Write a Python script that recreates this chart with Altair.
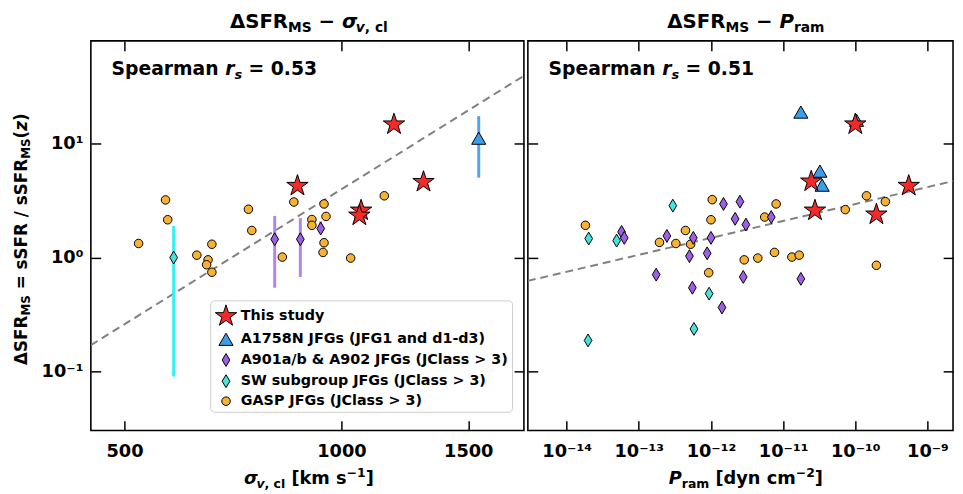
import math
import altair as alt
import pandas as pd

FONT = "DejaVu Sans"

# ---------------- data ----------------
GROUPS = ["This study", "A1758N JFGs (JFG1 and d1-d3)", "A901a/b & A902 JFGs (JClass > 3)",
          "SW subgroup JFGs (JClass > 3)", "GASP JFGs (JClass > 3)"]
FILL = ["#f42a2a", "#3e9de9", "#9c5fe5", "#46e2de", "#f7b234"]
ERR_GROUPS = GROUPS[1:4]
ERRC = ["#4aa5f3", "#b383ee", "#37f0f3"]

# left panel: sigma_v,cl [km/s] vs dSFR
star_L_x = [1183, 869, 1300, 1065, 1059]
star_L_y = [14.8, 4.27, 4.62, 2.59, 2.34]
tri_L_x = [1551]
tri_L_y = [11.2]
tri_L_lo = [5.04]
tri_L_hi = [17.5]
pur_L_x = [808, 877, 936]
pur_L_y = [1.45, 1.45, 1.80]
pur_L_lo = [0.543, 0.676, 1.63]
pur_L_hi = [2.32, 2.22, 2.08]
cya_L_x = [585]
cya_L_y = [1.0]
cya_L_lo = [0.090]
cya_L_hi = [1.90]
gasp_L_x = [570, 574, 523, 661, 743, 751, 859, 946, 952, 910, 910, 946, 1147, 630, 653, 650, 661, 828, 943, 1030]
gasp_L_y = [3.21, 2.15, 1.33, 1.31, 2.66, 1.73, 3.08, 2.96, 2.30, 2.16, 1.92, 1.35, 3.49, 1.05, 0.955, 0.865, 0.743, 1.01, 1.11, 0.99]
fit_L_x = [449, 1792]
fit_L_y = [0.17, 39.6]
spearman_L = "0.53"

# right panel: P_ram [dyn cm^-2] vs dSFR
star_R_x = [1.0e-10, 2.45e-11, 5.5e-10, 2.76e-11, 1.96e-10]
star_R_y = [14.8, 4.66, 4.27, 2.59, 2.39]
tri_R_x = [1.76e-11, 1.04e-10, 3.23e-11, 3.47e-11]
tri_R_y = [19.0, 16.1, 5.75, 4.33]
pur_R_x = [1.49e-12, 2.52e-12, 2.16e-12, 3.05e-12, 6.84e-12, 5.77e-14, 6.28e-14, 2.45e-13, 5.69e-13,
           1.00e-12, 5.03e-13, 8.85e-13, 1.74e-13, 5.52e-13, 2.80e-12, 1.42e-12, 1.76e-11]
pur_R_y = [2.96, 3.10, 2.19, 1.95, 2.27, 1.68, 1.49, 1.55, 1.49, 1.49, 1.03, 1.09, 0.708, 0.543, 0.676, 0.364, 0.650]
cya_R_x = [2.96e-13, 2.02e-14, 4.93e-14, 9.42e-13, 5.81e-13, 1.98e-14]
cya_R_y = [2.86, 1.47, 1.41, 0.482, 0.236, 0.187]
gasp_R_x = [1.82e-14, 1.04e-12, 1.0e-12, 4.43e-13, 8.0e-12, 5.55e-12, 1.43e-10, 2.61e-10, 7.26e-11, 1.93e-13,
            3.26e-13, 5.22e-13, 9.3e-13, 2.89e-12, 4.45e-12, 7.59e-12, 1.32e-11, 1.67e-11, 1.96e-10]
gasp_R_y = [1.92, 3.23, 2.15, 1.73, 2.96, 2.27, 3.49, 3.10, 2.64, 1.36, 1.33, 1.31, 0.736, 0.955, 0.99, 1.11, 1.01, 1.05, 0.855]
fit_R_x = [2.9e-15, 2.26e-9]
fit_R_y = [0.624, 4.70]
spearman_R = "0.51"

# axes
Y_DOMAIN = [0.0302, 80.2]
XL_DOMAIN = [449, 1792]
XR_DOMAIN = [2.9e-15, 2.26e-9]
Y_TICKS = [0.1, 1, 10]
Y_LABELS = ["10⁻¹", "10⁰", "10¹"]
XL_TICKS = [500, 1000, 1500]
XL_LABELS = ["500", "1000", "1500"]
XR_TICKS = [1e-14, 1e-13, 1e-12, 1e-11, 1e-10, 1e-9]
XR_LABELS = ["10⁻¹⁴", "10⁻¹³", "10⁻¹²", "10⁻¹¹", "10⁻¹⁰", "10⁻⁹"]

# ---------------- helpers ----------------
pts = []
for k in range(10):
    a = math.radians(-90 + 36 * k)
    r = 1.0 if k % 2 == 0 else 0.382
    pts.append((r * math.cos(a), r * math.sin(a)))
STAR = "M" + "L".join(f"{px:.3f},{py:.3f}" for px, py in pts) + "Z"
THIN_DIAMOND = "M0,-1L0.6,0L0,1L-0.6,0Z"
SHAPES = [STAR, "triangle-up", THIN_DIAMOND, THIN_DIAMOND, "circle"]
SIZES = [520, 205, 170, 170, 75]

W = {' ': 0.348, '0': 0.696, '1': 0.696, '2': 0.696, '3': 0.696, '5': 0.696, 'A': 0.774, 'C': 0.734,
     'F': 0.683, 'M': 0.995, 'P': 0.733, 'R': 0.770, 'S': 0.720, 'a': 0.675, 'c': 0.593, 'd': 0.716,
     'e': 0.678, 'k': 0.665, 'l': 0.343, 'm': 1.042, 'n': 0.712, 'p': 0.716, 'r': 0.493, 's': 0.595,
     'v': 0.652, 'y': 0.652, 'z': 0.582, '(': 0.457, ')': 0.457, '[': 0.457, ']': 0.457, '/': 0.365,
     '=': 0.838, '−': 0.838, ',': 0.380, '.': 0.380, 'Δ': 0.774, 'σ': 0.70}


def tw(s, fs):
    return sum(W.get(ch, 0.65) for ch in s) * fs


ONE = pd.DataFrame({"k": [0]})


def txt(s, x, y, fs, italic=False, angle=0):
    return alt.Chart(ONE).mark_text(
        text=s, align="left", baseline="alphabetic", font=FONT, fontSize=fs, fontWeight="bold",
        fontStyle="italic" if italic else "normal", color="black", angle=angle
    ).encode(x=alt.value(x), y=alt.value(y))


def rich(pieces, c, base, vertical=False, center=True):
    total = sum(tw(t, fs) for t, fs, it, sh in pieces)
    if vertical:
        pos = c + total / 2
    else:
        pos = c - total / 2 if center else c
    out = []
    for t, fs, it, sh in pieces:
        lead = len(t) - len(t.lstrip(' '))
        s = t.strip(' ')
        off = tw(' ' * lead, fs)
        if s:
            if vertical:
                out.append(txt(s, base + sh, pos - off, fs, it, angle=270))
            else:
                out.append(txt(s, pos + off, base + sh, fs, it))
        pos = pos - tw(t, fs) if vertical else pos + tw(t, fs)
    return out


def lab_expr(vals, labs):
    n = len(vals)
    parts = []
    for i in range(n):
        if i < n - 1:
            thr = math.sqrt(vals[i] * vals[i + 1])
            parts.append(f"datum.value < {thr!r} ? '{labs[i]}' : ")
        else:
            parts.append(f"'{labs[i]}'")
    return "".join(parts)


def ax_main(orient, values, labels):
    return alt.Axis(orient=orient, values=values, labelExpr=lab_expr(values, labels), title=None,
                    domain=False, grid=False, ticks=True, tickSize=10, tickWidth=1.5, tickColor="black",
                    offset=-10, labelFont=FONT, labelFontSize=18, labelFontWeight="bold",
                    labelColor="black", labelPadding=12 if orient == "bottom" else 8,
                    labelFlush=False, labelOverlap=False)


def ax_ticks(orient, values):
    return alt.Axis(orient=orient, values=values, labels=False, title=None, domain=False, grid=False,
                    ticks=True, tickSize=10, tickWidth=1.5, tickColor="black", offset=-10)


def points_df(star_x, star_y, tri_x, tri_y, pur_x, pur_y, cya_x, cya_y, gasp_x, gasp_y):
    rows = []
    for gi, xs, ys_ in [(4, gasp_x, gasp_y), (3, cya_x, cya_y), (2, pur_x, pur_y),
                        (1, tri_x, tri_y), (0, star_x, star_y)]:
        for a, b in zip(xs, ys_):
            rows.append({"group": GROUPS[gi], "x": a, "y": b})
    return pd.DataFrame(rows)


def err_df(items):
    rows = []
    for gi, xs, lo, hi in items:
        for a, l, h in zip(xs, lo, hi):
            rows.append({"group": GROUPS[gi], "x": a, "lo": l, "hi": h})
    return pd.DataFrame(rows)


ys = alt.Scale(type="log", domain=Y_DOMAIN, nice=False, zero=False)
xsL = alt.Scale(type="log", domain=XL_DOMAIN, nice=False, zero=False)
xsR = alt.Scale(type="log", domain=XR_DOMAIN, nice=False, zero=False)

LEG = alt.Legend(title=None, orient="none", legendX=121, legendY=263, labelFont=FONT, labelFontSize=14.5,
                 labelFontWeight="bold", labelColor="black", fillColor="white", strokeColor="#cccccc",
                 cornerRadius=4, padding=4, rowPadding=2.5, labelOffset=3, symbolStrokeColor="black",
                 symbolStrokeWidth=1, labelLimit=400)

PW_L, PW_R, PH = 439, 431, 395


def panel(xscale, xticks, xlabels, fit_x, fit_y, pdf, edf, show_legend, ylabels, title_pieces,
          xtitle_pieces, spearman, width, extra):
    fit = alt.Chart(pd.DataFrame({"x": fit_x, "y": fit_y})).mark_line(
        color="#808080", strokeWidth=2, strokeDash=[8, 5], clip=True
    ).encode(
        x=alt.X("x:Q", scale=xscale, axis=ax_main("bottom", xticks, xlabels)),
        y=alt.Y("y:Q", scale=ys, axis=ax_main("left", Y_TICKS, Y_LABELS) if ylabels else ax_ticks("left", Y_TICKS)),
    )
    layers = [fit]
    if edf is not None:
        layers.append(alt.Chart(edf).mark_rule(strokeWidth=3).encode(
            x=alt.X("x:Q", scale=xscale, axis=None),
            y=alt.Y("lo:Q", scale=ys, axis=None),
            y2="hi:Q",
            stroke=alt.Stroke("group:N", scale=alt.Scale(domain=ERR_GROUPS, range=ERRC), legend=None),
        ))
    leg = LEG if show_legend else None
    layers.append(alt.Chart(pdf).mark_point(filled=True, opacity=1, stroke="black", strokeWidth=1).encode(
        x=alt.X("x:Q", scale=xscale, axis=ax_ticks("top", xticks)),
        y=alt.Y("y:Q", scale=ys, axis=ax_ticks("right", Y_TICKS)),
        color=alt.Color("group:N", scale=alt.Scale(domain=GROUPS, range=FILL), legend=leg),
        shape=alt.Shape("group:N", scale=alt.Scale(domain=GROUPS, range=SHAPES), legend=leg),
        size=alt.Size("group:N", scale=alt.Scale(type="ordinal", domain=GROUPS, range=SIZES), legend=leg),
    ))
    layers += rich(title_pieces, 221, -13)
    layers += rich(xtitle_pieces, 221, 449)
    layers += rich([("Spearman ", 19, False, 0), ("r", 19, True, 0), ("s", 13, True, 4),
                    (" = " + spearman, 19, False, 0)], 21, 35, center=False)
    layers += extra
    return alt.layer(*layers).resolve_axis(x="independent", y="independent").properties(width=width, height=PH)


pdfL = points_df(star_L_x, star_L_y, tri_L_x, tri_L_y, pur_L_x, pur_L_y, cya_L_x, cya_L_y, gasp_L_x, gasp_L_y)
edfL = err_df([(3, cya_L_x, cya_L_lo, cya_L_hi), (2, pur_L_x, pur_L_lo, pur_L_hi), (1, tri_L_x, tri_L_lo, tri_L_hi)])
pdfR = points_df(star_R_x, star_R_y, tri_R_x, tri_R_y, pur_R_x, pur_R_y, cya_R_x, cya_R_y, gasp_R_x, gasp_R_y)

title_L = [("ΔSFR", 20, False, 0), ("MS", 14, False, 4), (" − ", 20, False, 0), ("σ", 20, True, 0),
           ("v", 14, True, 4), (", cl", 14, False, 4)]
title_R = [("ΔSFR", 20, False, 0), ("MS", 14, False, 4), (" − ", 20, False, 0), ("P", 20, True, 0),
           ("ram", 14, False, 4)]
xt_L = [("σ", 18, True, 0), ("v", 12.6, True, 4), (", cl", 12.6, False, 4), (" [km s", 18, False, 0),
        ("−1", 12.6, False, -7), ("]", 18, False, 0)]
xt_R = [("P", 18, True, 0), ("ram", 12.6, False, 4), (" [dyn cm", 18, False, 0), ("−2", 12.6, False, -7),
        ("]", 18, False, 0)]
yt = [("ΔSFR", 17, False, 0), ("MS", 12, False, 3.5), (" = sSFR / sSFR", 17, False, 0), ("MS", 12, False, 3.5),
      ("(", 17, False, 0), ("z", 17, True, 0), (")", 17, False, 0)]

left = panel(xsL, XL_TICKS, XL_LABELS, fit_L_x, fit_L_y, pdfL, edfL, True, True, title_L, xt_L,
             spearman_L, PW_L, rich(yt, 201, -65, vertical=True))
right = panel(xsR, XR_TICKS, XR_LABELS, fit_R_x, fit_R_y, pdfR, None, False, False, title_R, xt_R,
              spearman_R, PW_R, [])

chart = alt.hconcat(left, right, spacing=0).resolve_scale(
    x="independent", y="independent", color="independent", shape="independent",
    size="independent", stroke="independent"
).resolve_legend(color="independent", shape="independent", size="independent", stroke="independent").properties(
    padding={"left": 4, "top": 0, "right": 0, "bottom": 0}
).configure_view(stroke="black", strokeWidth=1.6)

chart.save("out.html", embed_options={"renderer": "svg", "actions": False})
